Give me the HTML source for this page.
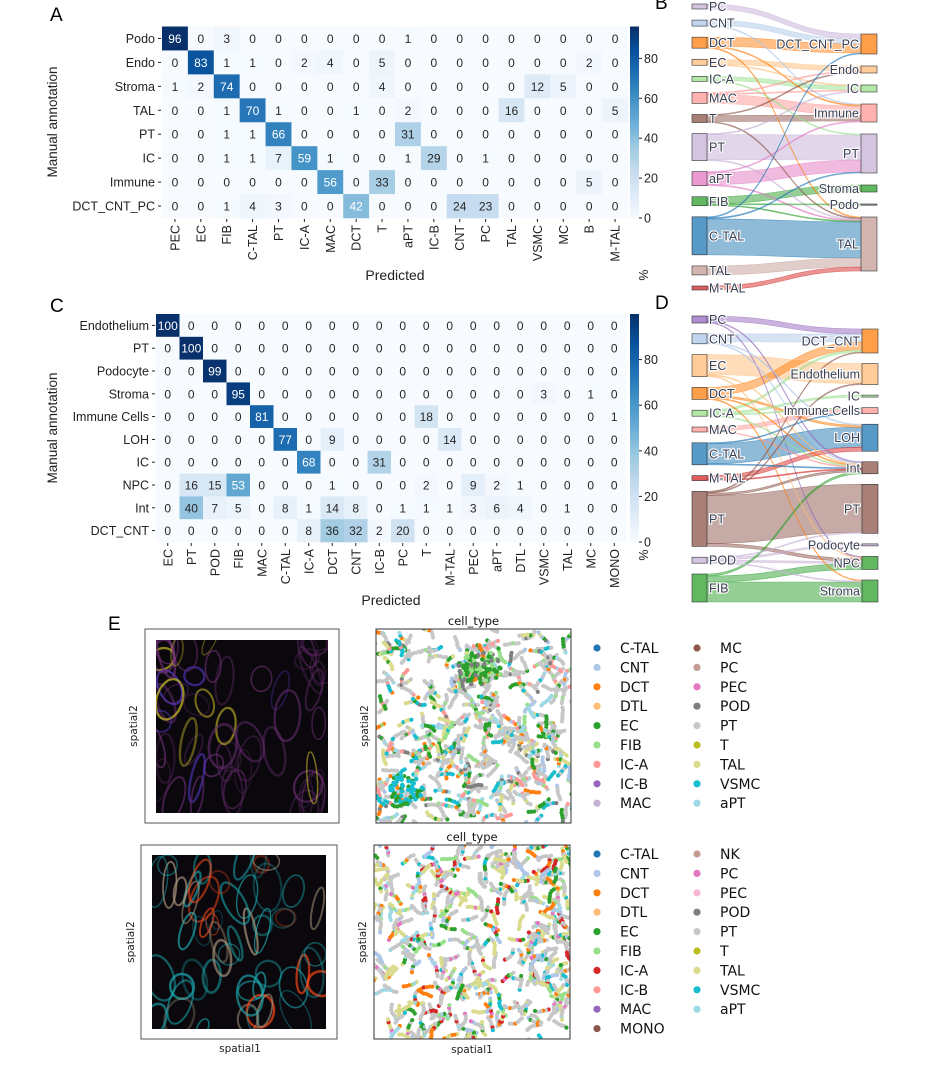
<!DOCTYPE html>
<html><head><meta charset="utf-8"><title>Cell type annotation figure</title>
<style>
html,body{margin:0;padding:0;background:#fff;}
svg{display:block;font-family:"Liberation Sans",Arial,sans-serif;}
.dv{font-family:"DejaVu Sans","Liberation Sans",sans-serif;}
</style></head>
<body>
<svg id="fig" width="940" height="1080" viewBox="0 0 940 1080" xmlns="http://www.w3.org/2000/svg">
<rect width="940" height="1080" fill="#fff"/>
<g id="gA"></g>
<g id="gC"></g>
<g id="gB"></g>
<g id="gD"></g>
<g id="gE"></g>
<text x="50" y="21" font-size="19">A</text>
<text x="50" y="312" font-size="19">C</text>
<text x="655" y="9" font-size="19">B</text>
<text x="655" y="309" font-size="19">D</text>
<text x="108" y="630" font-size="19">E</text>
</svg>
<script>
// ---------- Heatmap A data ----------
const rowsA = ["Podo","Endo","Stroma","TAL","PT","IC","Immune","DCT_CNT_PC"];
const colsA = ["PEC","EC","FIB","C-TAL","PT","IC-A","MAC","DCT","T","aPT","IC-B","CNT","PC","TAL","VSMC","MC","B","M-TAL"];
const valsA = [
 [96,0,3,0,0,0,0,0,0,1,0,0,0,0,0,0,0,0],
 [0,83,1,1,0,2,4,0,5,0,0,0,0,0,0,0,2,0],
 [1,2,74,0,0,0,0,0,4,0,0,0,0,0,12,5,0,0],
 [0,0,1,70,1,0,0,1,0,2,0,0,0,16,0,0,0,5],
 [0,0,1,1,66,0,0,0,0,31,0,0,0,0,0,0,0,0],
 [0,0,1,1,7,59,1,0,0,1,29,0,1,0,0,0,0,0],
 [0,0,0,0,0,0,56,0,33,0,0,0,0,0,0,0,5,0],
 [0,0,1,4,3,0,0,42,0,0,0,24,23,0,0,0,0,0]];
const ticksA = [0,20,40,60,80];
// ---------- Heatmap C data ----------
const rowsC = ["Endothelium","PT","Podocyte","Stroma","Immune Cells","LOH","IC","NPC","Int","DCT_CNT"];
const colsC = ["EC","PT","POD","FIB","MAC","C-TAL","IC-A","DCT","CNT","IC-B","PC","T","M-TAL","PEC","aPT","DTL","VSMC","TAL","MC","MONO"];
const valsC = [
 [100,0,0,0,0,0,0,0,0,0,0,0,0,0,0,0,0,0,0,0],
 [0,100,0,0,0,0,0,0,0,0,0,0,0,0,0,0,0,0,0,0],
 [0,0,99,0,0,0,0,0,0,0,0,0,0,0,0,0,0,0,0,0],
 [0,0,0,95,0,0,0,0,0,0,0,0,0,0,0,0,3,0,1,0],
 [0,0,0,0,81,0,0,0,0,0,0,18,0,0,0,0,0,0,0,1],
 [0,0,0,0,0,77,0,9,0,0,0,0,14,0,0,0,0,0,0,0],
 [0,0,0,0,0,0,68,0,0,31,0,0,0,0,0,0,0,0,0,0],
 [0,16,15,53,0,0,0,1,0,0,0,2,0,9,2,1,0,0,0,0],
 [0,40,7,5,0,8,1,14,8,0,1,1,1,3,6,4,0,1,0,0],
 [0,0,0,0,0,0,8,36,32,2,20,0,0,0,0,0,0,0,0,0]];
const ticksC = [0,20,40,60,80];
// ---------- Sankey B data ----------
const leftB = ["PC","CNT","DCT","EC","IC-A","MAC","T","PT","aPT","FIB","C-TAL","TAL","M-TAL"];
const rightB = ["DCT_CNT_PC","Endo","IC","Immune","PT","Stroma","Podo","TAL"];
const flowSrcB = ["PC","CNT","CNT","DCT","DCT","DCT","EC","EC","IC-A","IC-A","MAC","MAC","MAC","T","T","T","PT","PT","PT","aPT","aPT","aPT","FIB","FIB","FIB","C-TAL","C-TAL","C-TAL","TAL","M-TAL"];
const flowDstB = ["DCT_CNT_PC","DCT_CNT_PC","Immune","DCT_CNT_PC","TAL","Immune","Endo","IC","IC","PT","Immune","Endo","IC","Immune","TAL","Endo","PT","TAL","IC","PT","TAL","Immune","Stroma","Podo","TAL","TAL","PT","DCT_CNT_PC","TAL","TAL"];
const flowValB = [5,5,1,9,1,1,5,1,4,1,9,1,1,6,1,1,25,1,1,12,1,1,7,1,1,36,1,1,9,4];
// ---------- Sankey D data ----------
const leftD = ["PC","CNT","EC","DCT","IC-A","MAC","C-TAL","M-TAL","PT","POD","FIB"];
const rightD = ["DCT_CNT","Endothelium","IC","Immune Cells","LOH","Int","PT","Podocyte","NPC","Stroma"];
const flowSrcD = ["PC","PC","PC","CNT","CNT","CNT","EC","EC","EC","DCT","DCT","DCT","DCT","IC-A","IC-A","IC-A","IC-A","MAC","MAC","C-TAL","C-TAL","C-TAL","M-TAL","M-TAL","PT","PT","PT","PT","PT","POD","POD","POD","POD","FIB","FIB","FIB"];
const flowDstD = ["DCT_CNT","Int","NPC","DCT_CNT","Int","LOH","Endothelium","Int","NPC","DCT_CNT","LOH","Int","Stroma","IC","DCT_CNT","Int","Immune Cells","Immune Cells","Int","LOH","Int","Immune Cells","LOH","Int","PT","Int","NPC","DCT_CNT","Endothelium","Podocyte","NPC","Stroma","PT","Stroma","NPC","Int"];
const flowValD = [5,1,1,8,1,1,20,1,1,8,2,1,1,2,2,1,1,4,1,20,1,1,4,1,48,2,3,1,1,2,2,1,1,20,6,2];
// ---------- Legend data ----------
const legE1c1 = ["C-TAL","CNT","DCT","DTL","EC","FIB","IC-A","IC-B","MAC"];
const legE1c2 = ["MC","PC","PEC","POD","PT","T","TAL","VSMC","aPT"];
const legE2c1 = ["C-TAL","CNT","DCT","DTL","EC","FIB","IC-A","IC-B","MAC","MONO"];
const legE2c2 = ["NK","PC","PEC","POD","PT","T","TAL","VSMC","aPT"];

const NS="http://www.w3.org/2000/svg";
function mk(parent,tag,attrs,txt){const e=document.createElementNS(NS,tag);for(const k in attrs)e.setAttribute(k,attrs[k]);if(txt!==undefined)e.textContent=txt;parent.appendChild(e);return e;}

const blues=["#f7fbff","#deebf7","#c6dbef","#9ecae1","#6baed6","#4292c6","#2171b5","#08519c","#08306b"];
function hex2rgb(h){return [parseInt(h.slice(1,3),16),parseInt(h.slice(3,5),16),parseInt(h.slice(5,7),16)];}
function cmap(t){t=Math.max(0,Math.min(1,t));const p=t*8;const i=Math.min(7,Math.floor(p));const f=p-i;const a=hex2rgb(blues[i]),b=hex2rgb(blues[i+1]);return "rgb("+a.map((v,k)=>Math.round(v+(b[k]-v)*f)).join(",")+")";}

function heatmap(g,rows,cols,vals,ticks,x0,y0,x1,y1,cbx,ylabY,predY,pctY){
  let vmax=0;vals.forEach(r=>r.forEach(v=>{if(v>vmax)vmax=v;}));
  const cw=(x1-x0)/cols.length, ch=(y1-y0)/rows.length;
  const xs=i=>x0+i*cw, ys=j=>y0+j*ch;
  rows.forEach((rn,j)=>{
    cols.forEach((cn,i)=>{
      const v=vals[j][i];
      const r=mk(g,"rect",{x:xs(i),y:ys(j),width:cw+0.3,height:ch+0.3,fill:cmap(v/vmax)});
      
      
      const t=mk(g,"text",{x:xs(i)+cw/2,y:ys(j)+ch/2+4.5,"text-anchor":"middle","font-size":12,fill:(v/vmax>0.4?"#fff":"#262626")},String(v));
      
      
    });
    const l=mk(g,"text",{x:x0-7,y:ys(j)+ch/2+4.5,"text-anchor":"end","font-size":12.5,fill:"#222"},rn);
    
    
    mk(g,"line",{x1:x0-4,x2:x0-1,y1:ys(j)+ch/2,y2:ys(j)+ch/2,stroke:"#222","stroke-width":1});
  });
  cols.forEach((cn,i)=>{
    const cx=xs(i)+cw/2;
    mk(g,"line",{x1:cx,x2:cx,y1:y1+1,y2:y1+4,stroke:"#222","stroke-width":1});
    const t=mk(g,"text",{x:0,y:0,"text-anchor":"end","font-size":12.5,fill:"#222",transform:"translate("+(cx+4.5)+","+(y1+7)+") rotate(-90)"},cn);
    
    
  });
  const cb=mk(g,"g",{});
  
  
  const n=60;
  for(let k=0;k<n;k++){mk(cb,"rect",{x:cbx,y:y1-(k+1)*(y1-y0)/n,width:9,height:(y1-y0)/n+0.5,fill:cmap((k+0.5)/n)});}
  ticks.forEach(tv=>{const ty=y1-tv/vmax*(y1-y0);mk(cb,"line",{x1:cbx+9,x2:cbx+12,y1:ty,y2:ty,stroke:"#222"});
    const t=mk(cb,"text",{x:cbx+14,y:ty+4.5,"font-size":12.5,fill:"#222"},String(tv));
    
    });
  const pc=mk(g,"text",{x:0,y:0,"font-size":12.5,fill:"#222","text-anchor":"middle",transform:"translate("+(cbx+18)+","+pctY+") rotate(-90)"},"%");
  
  
  const yl=mk(g,"text",{x:0,y:0,"font-size":13.5,fill:"#222","text-anchor":"middle",transform:"translate(57,"+ylabY+") rotate(-90)"},"Manual annotation");
  
  
  const xl=mk(g,"text",{x:(x0+x1)/2,y:predY,"font-size":14,fill:"#222","text-anchor":"middle"},"Predicted");
  
  
}
heatmap(document.getElementById("gA"),rowsA,colsA,valsA,ticksA,162,26.5,628,218,630,122,280,275);
heatmap(document.getElementById("gC"),rowsC,colsC,valsC,ticksC,156,314,626,542,630,428,605,555);

const colorMap={"PC":"#c5b0d5","CNT":"#aec7e8","DCT":"#ff7f0e","EC":"#ffbb78","IC-A":"#98df8a","MAC":"#ff9896","T":"#8c564b","PT":"#c5b0d5","aPT":"#e377c2","FIB":"#2ca02c","C-TAL":"#1f77b4","TAL":"#c49c94","M-TAL":"#d62728","POD":"#c5b0d5",
 "DCT_CNT_PC":"#ff7f0e","Endo":"#ffbb78","IC":"#98df8a","Immune":"#ff9896","Stroma":"#2ca02c","Podo":"#7f7f7f",
 "DCT_CNT":"#ff7f0e","Endothelium":"#ffbb78","Immune Cells":"#ff9896","LOH":"#1f77b4","Int":"#8c564b","Podocyte":"#c5b0d5","NPC":"#2ca02c"};
const colorMapD={"PC":"#9467bd","PT":"#8c564b"};

function sankey(g,left,right,src,dst,val,lx,rx,ly0,ly1,ry0,ry1,colorFor,rcolorFor){
  const lsum={},rsum={};left.forEach(n=>lsum[n]=0);right.forEach(n=>rsum[n]=0);
  val.forEach((v,k)=>{lsum[src[k]]+=v;rsum[dst[k]]+=v;});
  const lt=left.reduce((a,n)=>a+lsum[n],0), rt=right.reduce((a,n)=>a+rsum[n],0);
  const lgap=(ly1-ly0-lt)/(left.length-1), rgap=(ry1-ry0-rt)/(right.length-1);
  const lpos={},rpos={};let y=ly0;left.forEach(n=>{lpos[n]=y;y+=lsum[n]+lgap;});
  y=ry0;right.forEach(n=>{rpos[n]=y;y+=rsum[n]+rgap;});
  const idx=val.map((v,k)=>k);
  const lOff={},rOff={};left.forEach(n=>lOff[n]=lpos[n]);right.forEach(n=>rOff[n]=rpos[n]);
  const bySrc=idx.slice().sort((a,b)=>(left.indexOf(src[a])-left.indexOf(src[b]))||(right.indexOf(dst[a])-right.indexOf(dst[b])));
  const sy={};bySrc.forEach(k=>{sy[k]=lOff[src[k]];lOff[src[k]]+=val[k];});
  const byDst=idx.slice().sort((a,b)=>(right.indexOf(dst[a])-right.indexOf(dst[b]))||(left.indexOf(src[a])-left.indexOf(src[b])));
  const dy={};byDst.forEach(k=>{dy[k]=rOff[dst[k]];rOff[dst[k]]+=val[k];});
  const x1=lx+15,x2=rx,xm=(x1+x2)/2;
  idx.slice().sort((a,b)=>val[b]-val[a]).forEach(k=>{
    const v=val[k],a=sy[k],b=dy[k];
    const d="M"+x1+","+a+" C"+xm+","+a+" "+xm+","+b+" "+x2+","+b+" L"+x2+","+(b+v)+" C"+xm+","+(b+v)+" "+xm+","+(a+v)+" "+x1+","+(a+v)+" Z";
    const p=mk(g,"path",{d:d,fill:colorFor(src[k]),"fill-opacity":0.5,stroke:colorFor(src[k]),"stroke-opacity":0.6,"stroke-width":0.6});
    
    
  });
  left.forEach(n=>{
    const r=mk(g,"rect",{x:lx,y:lpos[n],width:15,height:Math.max(lsum[n],1.2),fill:colorFor(n),"fill-opacity":0.75,stroke:"#333","stroke-width":0.6});
    
    
    const t=mk(g,"text",{x:lx+17,y:lpos[n]+lsum[n]/2+4.5,"font-size":12.5,fill:"#3a3f52",stroke:"#fff","stroke-width":2.2,"paint-order":"stroke"},n);
    
    
  });
  right.forEach(n=>{
    const r=mk(g,"rect",{x:rx,y:rpos[n],width:16,height:Math.max(rsum[n],1.2),fill:rcolorFor(n),"fill-opacity":0.75,stroke:"#333","stroke-width":0.6});
    
    
    const t=mk(g,"text",{x:rx-2,y:rpos[n]+rsum[n]/2+4.5,"font-size":12.5,"text-anchor":"end",fill:"#3a3f52",stroke:"#fff","stroke-width":2.2,"paint-order":"stroke"},n);
    
    
  });
}
sankey(document.getElementById("gB"),leftB,rightB,flowSrcB,flowDstB,flowValB,692,861,4,290,34,271,n=>colorMap[n],n=>colorMap[n]);
sankey(document.getElementById("gD"),leftD,rightD,flowSrcD,flowDstD,flowValD,692,862,316,602,329,602,n=>(colorMapD[n]||colorMap[n]),n=>(n==="PT"?"#8c564b":colorMap[n]));

// ---------- Panel E ----------
const gE=document.getElementById("gE");
const legColors={"C-TAL":"#1f77b4","CNT":"#aec7e8","DCT":"#ff7f0e","DTL":"#ffbb78","EC":"#2ca02c","FIB":"#98df8a","IC-A":"#ff9896","IC-B":"#9467bd","MAC":"#c5b0d5","MC":"#8c564b","PC":"#c49c94","PEC":"#e377c2","POD":"#7f7f7f","PT":"#c7c7c7","T":"#bcbd22","TAL":"#dbdb8d","VSMC":"#17becf","aPT":"#9edae5"};
const legColors2={"C-TAL":"#1f77b4","CNT":"#aec7e8","DCT":"#ff7f0e","DTL":"#ffbb78","EC":"#2ca02c","FIB":"#98df8a","IC-A":"#d62728","IC-B":"#ff9896","MAC":"#9467bd","MONO":"#8c564b","NK":"#c49c94","PC":"#e377c2","PEC":"#f7b6d2","POD":"#7f7f7f","PT":"#c7c7c7","T":"#bcbd22","TAL":"#dbdb8d","VSMC":"#17becf","aPT":"#9edae5"};
function legend(list,cols,x,y0){list.forEach((n,j)=>{
  const c=mk(gE,"circle",{cx:x,cy:y0+j*19.4,r:3.6,fill:cols[n]});
  
  
  const t=mk(gE,"text",{x:x+23,y:y0+j*19.4+5,"font-size":14,fill:"#111","class":"dv"},n);
  
  });}
legend(legE1c1,legColors,597,648);legend(legE1c2,legColors,697,648);
legend(legE2c1,legColors2,597,854);legend(legE2c2,legColors2,697,854);

// deterministic texture generator for microscopy-like imagery (decorative, not data)
let seed=7;function rnd(){seed=(seed*16807)%2147483647;return seed/2147483647;}
function micro(fx,fy,fw,fh,ix,iy,iw,ih,ringCols,name){
  const g=mk(gE,"g",{});
  
  
  mk(g,"rect",{x:fx,y:fy,width:fw,height:fh,fill:"#fff",stroke:"#555","stroke-width":1});
  mk(g,"rect",{x:ix,y:iy,width:iw,height:ih,fill:"#0a080c"});
  const cp="cp"+name;const d=mk(g,"defs",{});const c=mk(d,"clipPath",{id:cp});mk(c,"rect",{x:ix,y:iy,width:iw,height:ih});
  const gg=mk(g,"g",{"clip-path":"url(#"+cp+")"});
  for(let k=0;k<55;k++){const col=ringCols[Math.floor(rnd()*ringCols.length)];
    const cx=ix+rnd()*iw,cy=iy+rnd()*ih,rx=5+rnd()*9,ry=8+rnd()*18;
    mk(gg,"ellipse",{cx:cx,cy:cy,rx:rx,ry:ry,fill:"none",stroke:col,"stroke-width":1.2+rnd()*1.5,"stroke-opacity":0.25+rnd()*0.45,transform:"rotate("+(rnd()*60-30)+","+cx+","+cy+")"});}
}
micro(145,629,194,194,156,640,172,173,["#7a3580","#5b3bd6","#d8c82a","#5a2460","#6a2d72","#6a2d72"],"he-image-1");
micro(141,845,196,194,152,855,174,174,["#1fc0c8","#18a8b0","#ff4a1a","#b09a80","#20b0b8","#18a0a8"],"he-image-2");
[[137,726],[134,942]].forEach(p=>{const t=mk(gE,"text",{x:0,y:0,"font-size":10.5,"text-anchor":"middle","class":"dv",fill:"#222",transform:"translate("+p[0]+","+p[1]+") rotate(-90)"},"spatial2");
  });
function scatter(x,y,w,h,palette,weights,name,lab,cluster){
  const g=mk(gE,"g",{});
  
  
  mk(g,"rect",{x:x,y:y,width:w,height:h,fill:"#fff"});
  const cp="cp"+name;const d=mk(g,"defs",{});const c=mk(d,"clipPath",{id:cp});mk(c,"rect",{x:x,y:y,width:w,height:h});
  const gg=mk(g,"g",{"clip-path":"url(#"+cp+")"});
  const tot=weights.reduce((a,b)=>a+b,0);
  for(let s=0;s<330;s++){
    let px=x+rnd()*w,py=y+rnd()*h,ang=rnd()*6.28;
    let r=rnd()*tot,ci=0;while(r>weights[ci]){r-=weights[ci];ci++;}
    for(let k=0;k<6;k++){ang+=rnd()*0.9-0.45;px+=Math.cos(ang)*2.8;py+=Math.sin(ang)*2.8;
      const col=rnd()<0.7?palette[ci]:palette[Math.floor(rnd()*palette.length)];
      mk(gg,"circle",{cx:px,cy:py,r:2.1,fill:col});}
  }
  if(cluster){cluster.forEach(cl=>{for(let k=0;k<cl[4];k++){const a=rnd()*6.28,rr=Math.sqrt(rnd())*cl[2];
    mk(gg,"circle",{cx:cl[0]+Math.cos(a)*rr,cy:cl[1]+Math.sin(a)*rr*0.8,r:2.3,fill:cl[3][Math.floor(rnd()*cl[3].length)]});}});}
  mk(g,"rect",{x:x,y:y,width:w,height:h,fill:"none",stroke:"#333","stroke-width":1});
  const t=mk(gE,"text",{x:x+w/2,y:y-4,"font-size":11.5,"text-anchor":"middle","class":"dv",fill:"#111"},"cell_type");
  
  const t2=mk(gE,"text",{x:0,y:0,"font-size":10.5,"text-anchor":"middle","class":"dv",fill:"#222",transform:"translate("+(x-8)+","+(y+h/2)+") rotate(-90)"},"spatial2");
  
  if(lab){const t3=mk(gE,"text",{x:x+w/2,y:y+h+14,"font-size":10.5,"text-anchor":"middle","class":"dv",fill:"#222"},"spatial1");
  }
}
scatter(376,629,195,194,["#c7c7c7","#2ca02c","#17becf","#ff7f0e","#dbdb8d","#9edae5","#aec7e8","#98df8a","#ff9896","#7f7f7f"],[16,2,2,1.2,2,2,1.5,1,1,0.6],"spatial-scatter-1",false,
  [[480,668,22,["#2ca02c","#2ca02c","#7f7f7f","#2ca02c","#98df8a"],110],[405,790,18,["#17becf","#17becf","#2ca02c"],60]]);
scatter(374,845,196,194,["#c7c7c7","#dbdb8d","#aec7e8","#d62728","#ff7f0e","#2ca02c","#e377c2","#9edae5","#98df8a","#17becf"],[14,7,2.5,1.2,1.2,1,1,1,1,0.6],"spatial-scatter-2",true,null);
const sx=mk(gE,"text",{x:240,y:1052,"font-size":10.5,"text-anchor":"middle","class":"dv",fill:"#222"},"spatial1");

</script>
</body></html>
